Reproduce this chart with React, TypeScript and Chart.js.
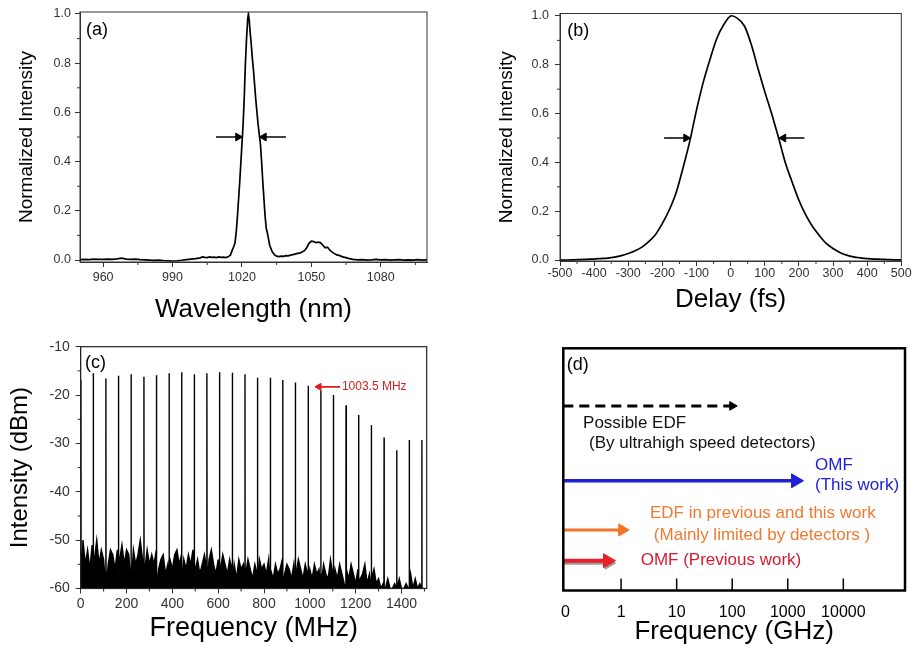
import React, { useEffect, useRef } from 'react';
import Chart from 'chart.js/auto';

const FONT = "'Liberation Sans', Arial, Helvetica, sans-serif";

// ---------------- (a) optical spectrum ----------------
const specWavelength = [
  950, 952, 954, 956, 958, 960, 962, 964, 966, 968, 970, 972, 974, 976, 978, 980, 982, 984, 986, 988,
  990, 992, 994, 996, 998, 1000, 1002, 1003, 1004, 1005, 1006, 1007, 1008, 1009, 1010, 1011, 1012, 1013, 1014,
  1015, 1015.5, 1016, 1016.5, 1017, 1017.5, 1018, 1018.5, 1019, 1019.5, 1020, 1020.5, 1021, 1021.5, 1022, 1022.5,
  1022.8, 1023.2, 1023.5, 1024, 1024.5, 1025, 1025.5, 1026, 1026.5, 1027, 1027.5, 1028, 1028.5, 1029, 1029.5,
  1030, 1030.5, 1031, 1031.5, 1032, 1033, 1034, 1035, 1036, 1037, 1038, 1039, 1040, 1041, 1042, 1043, 1044,
  1045, 1046, 1047, 1048, 1049, 1050, 1051, 1052, 1053, 1054, 1055, 1056, 1057, 1058, 1059, 1060, 1061, 1062,
  1063, 1064, 1065, 1066, 1067, 1068, 1070, 1072, 1074, 1076, 1078, 1080, 1082, 1084, 1086, 1088, 1090, 1092,
  1094, 1096, 1098, 1100,
];
const specIntensity = [
  0.002, 0.003, 0.002, 0.004, 0.003, 0.003, 0.004, 0.003, 0.005, 0.008, 0.004, 0.003, 0.004, 0.002, 0.001, 0.0, -0.001, 0.0, -0.002, -0.003,
  -0.004, -0.003, -0.001, 0.002, 0.004, 0.006, 0.009, 0.013, 0.011, 0.01, 0.013, 0.011, 0.012, 0.01, 0.013, 0.011, 0.012, 0.01, 0.013,
  0.02, 0.032, 0.045, 0.055, 0.07, 0.11, 0.17, 0.24, 0.31, 0.39, 0.47, 0.55, 0.66, 0.8, 0.9, 0.98,
  1.0, 0.97, 0.93, 0.88, 0.82, 0.77, 0.71, 0.65, 0.6, 0.55, 0.51, 0.47, 0.4, 0.32, 0.25,
  0.18, 0.13, 0.11, 0.085, 0.06, 0.035, 0.022, 0.016, 0.014, 0.016, 0.015, 0.018, 0.017, 0.02, 0.022, 0.024, 0.027,
  0.028, 0.033, 0.038, 0.05, 0.068, 0.077, 0.075, 0.071, 0.073, 0.07, 0.06, 0.05, 0.052, 0.04, 0.032, 0.026, 0.021, 0.019,
  0.015, 0.012, 0.01, 0.007, 0.005, 0.003, 0.001, 0.002, 0.0, 0.001, 0.003, 0.001, 0.002, 0.0, 0.001, 0.002, 0.0, 0.001,
  0.0, 0.002, 0.0, 0.001,
];
const aArrowFrom = [1008.8, 1039.0];
const aArrowHead = [1018.3, 1029.5];
const halfMaxLevel = 0.5;
const aXTicks = [960, 990, 1020, 1050, 1080];
const aXMinor = [975, 1005, 1035, 1065, 1095];
const normTicks = [0, 0.2, 0.4, 0.6, 0.8, 1.0];
const normTickLabels = ['0.0', '0.2', '0.4', '0.6', '0.8', '1.0'];
const normMinor = [0.1, 0.3, 0.5, 0.7, 0.9];

// ---------------- (b) autocorrelation ----------------
const delayFs = [
  -500, -480, -460, -440, -420, -400, -380, -360, -340, -320, -300, -280, -260, -240, -220, -200, -180, -160, -140, -120,
  -100, -80, -60, -40, -20, 0, 20, 40, 60, 80, 100, 120, 140, 160, 180, 200, 220, 240, 260, 280,
  300, 320, 340, 360, 380, 400, 420, 440, 460, 480, 500,
];
const acIntensity = [
  0.0, 0.0, 0.001, 0.002, 0.003, 0.004, 0.006, 0.008, 0.012, 0.018, 0.027, 0.038, 0.053, 0.075, 0.105, 0.15, 0.205, 0.275, 0.375, 0.485,
  0.615, 0.73, 0.825, 0.91, 0.965, 1.0, 0.99, 0.96, 0.885, 0.785, 0.69, 0.6, 0.503, 0.4, 0.32, 0.245, 0.185, 0.137, 0.1, 0.068,
  0.047, 0.031, 0.02, 0.013, 0.009, 0.006, 0.004, 0.003, 0.002, 0.001, 0.001,
];
const bArrowFrom = [-195, 216];
const bArrowHead = [-130.7, 154.7];
const bXTicks = [-500, -400, -300, -200, -100, 0, 100, 200, 300, 400, 500];
const bXMinor = [-450, -350, -250, -150, -50, 50, 150, 250, 350, 450];

// ---------------- (c) RF spectrum ----------------
const combFreqMHz = [1, 55, 110, 165, 220, 276, 331, 386, 441, 496, 551, 606, 662, 717, 772, 827, 882, 937, 993, 1048, 1103, 1158, 1213, 1268, 1324, 1379, 1434, 1489];
const combLevelDbm = [-16.9, -15.5, -16.6, -16.0, -15.7, -16.2, -15.9, -15.5, -15.3, -15.7, -15.5, -15.3, -15.4, -15.7, -16.4, -16.4, -16.9, -17.4, -18.1, -19.0, -20.0, -22.1, -24.1, -26.2, -28.8, -31.4, -29.3, -29.3];
const noiseStartMHz = 0;
const noiseStepMHz = 10;
const noiseLevelDbm = [
  -53, -50, -55, -52, -56, -51, -54, -50, -55, -52, -54,
  -51, -55, -52, -53, -56, -52, -54, -51, -55, -52,
  -53, -56, -52, -55, -53, -50, -54, -56, -52, -55,
  -53, -55, -52, -56, -54, -53, -57, -55, -54, -56,
  -53, -52, -55, -53, -54, -56, -53, -55, -52, -56,
  -54, -57, -55, -53, -56, -54, -52, -55, -57, -54,
  -56, -53, -55, -57, -54, -56, -55, -58, -54, -56,
  -55, -57, -54, -56, -58, -55, -57, -54, -56, -55,
  -57, -54, -56, -58, -55, -57, -56, -54, -57, -55,
  -56, -58, -55, -57, -54, -56, -58, -55, -57, -56,
  -58, -55, -57, -56, -59, -55, -57, -58, -54, -57,
  -56, -58, -55, -57, -59, -56, -58, -55, -57, -59,
  -56, -58, -57, -55, -59, -57, -58, -56, -59, -58,
  -60, -59, -60, -58, -60, -60, -59, -60, -58, -60,
  -60, -59, -60, -57, -60, -58, -60, -59, -60, -60,
];
const cXTicks = [0, 200, 400, 600, 800, 1000, 1200, 1400];
const cXMinor = [100, 300, 500, 700, 900, 1100, 1300, 1500];
const cYTicks = [-60, -50, -40, -30, -20, -10];
const cYMinor = [-55, -45, -35, -25, -15];
const markFrom = 1132;
const markHead = 1040;
const markLevel = -18.3;
const markText = '1003.5 MHz';
const markTextX = 1140;

// ---------------- (d) bandwidth comparison ----------------
const dTickPos = [0, 1, 2, 3, 4, 5];
const dTickLabels = ['0', '1', '10', '100', '1000', '10000'];
const dInnerTicks = [1, 2, 3, 4, 5];
const dArrowStart = -0.04;
const dArrowEnd = [3.0, 4.14, 1.02, 0.755];
const dArrowLevel = [0.762, 0.453, 0.25, 0.123];
const dArrowColor = ['#000000', '#1e22d6', '#f07528', '#e8202a'];
const dArrowWidth = [3, 3.5, 3, 4];
const dArrowHeadSize = [5, 8, 7, 8];
const dNoteText = ['Possible EDF', '(By ultrahigh speed detectors)', 'OMF', '(This work)', 'EDF in previous and this work', '(Mainly limited by detectors )', 'OMF (Previous work)'];
const dNoteX = [0.316, 0.422, 4.49, 4.49, 1.519, 1.59, 1.353];
const dNoteY = [0.69, 0.608, 0.518, 0.436, 0.319, 0.229, 0.123];
const dNoteColor = ['#111111', '#111111', '#1e22d6', '#1e22d6', '#f07a30', '#f07a30', '#d81a30'];

// ---------------- helpers ----------------
function makeFrame(o: any) {
  return {
    id: 'frameTicks',
    afterDatasetsDraw(chart: any) {
      const { ctx, chartArea: ca, scales } = chart;
      ctx.save();
      ctx.strokeStyle = o.color;
      ctx.lineWidth = o.width;
      ctx.strokeRect(ca.left, ca.top, ca.right - ca.left, ca.bottom - ca.top);
      ctx.lineWidth = o.tickWidth || 1;
      ctx.beginPath();
      (o.minorX || []).forEach((v: number) => {
        const p = scales.x.getPixelForValue(v);
        ctx.moveTo(p, ca.bottom);
        ctx.lineTo(p, ca.bottom + o.minorLen);
      });
      (o.minorY || []).forEach((v: number) => {
        const p = scales.y.getPixelForValue(v);
        ctx.moveTo(ca.left, p);
        ctx.lineTo(ca.left - o.minorLen, p);
      });
      (o.innerX || []).forEach((v: number) => {
        const p = scales.x.getPixelForValue(v);
        ctx.moveTo(p, ca.bottom);
        ctx.lineTo(p, ca.bottom - o.innerLen);
      });
      ctx.stroke();
      ctx.restore();
    },
  };
}

function makeNotes(items: any[]) {
  return {
    id: 'notes',
    afterDatasetsDraw(chart: any) {
      const { ctx, chartArea: ca, scales } = chart;
      ctx.save();
      items.forEach((it) => {
        const x = it.rel ? ca.left + it.x : scales.x.getPixelForValue(it.x);
        const y = it.rel ? ca.top + it.y : scales.y.getPixelForValue(it.y);
        ctx.font = `${it.size}px ${FONT}`;
        ctx.fillStyle = it.color;
        ctx.textAlign = 'left';
        ctx.textBaseline = 'middle';
        ctx.fillText(it.text, x, y);
      });
      ctx.restore();
    },
  };
}

function arrowDataset(from: number, head: number, level: number, color: string, width: number, r: number, dash?: number[]) {
  return {
    data: [{ x: from, y: level }, { x: head, y: level }],
    borderColor: color,
    borderWidth: width,
    borderDash: dash || [],
    pointRadius: [0, r],
    pointStyle: 'triangle',
    pointRotation: head > from ? 90 : -90,
    pointBackgroundColor: color,
    pointBorderColor: color,
    pointBorderWidth: 1,
    fill: false,
    tension: 0,
  };
}

function xAxis(o: any) {
  return {
    type: 'linear',
    min: o.min,
    max: o.max,
    afterBuildTicks: (s: any) => {
      s.ticks = o.ticks.map((v: number) => ({ value: v }));
    },
    afterFit: (s: any) => {
      s.height = o.height;
    },
    ticks: {
      autoSkip: false,
      maxRotation: 0,
      minRotation: 0,
      color: o.tickColor || '#333',
      font: { family: FONT, size: o.tickSize },
      padding: o.tickPad,
      callback: (_v: any, i: number) => o.labels[i],
    },
    grid: o.noGrid
      ? { display: false, drawTicks: false }
      : { display: true, drawOnChartArea: false, drawTicks: true, tickLength: 5, color: '#333', tickColor: '#333', lineWidth: 1 },
    border: { display: !o.noGrid, color: '#333', width: 1 },
    title: {
      display: true,
      text: o.title,
      color: '#000',
      font: { family: FONT, size: o.titleSize },
      padding: { top: 0, bottom: o.titlePad },
    },
  };
}

function yAxis(o: any) {
  return {
    type: 'linear',
    min: o.min,
    max: o.max,
    afterBuildTicks: (s: any) => {
      s.ticks = o.ticks.map((v: number) => ({ value: v }));
    },
    afterFit: (s: any) => {
      s.width = o.width;
    },
    ticks: {
      autoSkip: false,
      color: '#333',
      font: { family: FONT, size: o.tickSize },
      padding: o.tickPad,
      callback: (_v: any, i: number) => o.labels[i],
    },
    grid: { display: true, drawOnChartArea: false, drawTicks: true, tickLength: 5, color: '#333', tickColor: '#333', lineWidth: 1 },
    border: { display: true, color: '#333', width: 1 },
    title: {
      display: true,
      text: o.title,
      color: '#000',
      font: { family: FONT, size: o.titleSize },
      padding: { top: o.titlePad, bottom: 0 },
    },
  };
}

const baseOptions = {
  animation: false,
  responsive: false,
  events: [],
  plugins: { legend: { display: false }, tooltip: { enabled: false } },
};

function makeA() {
  const curve = specWavelength.map((x, i) => ({ x, y: specIntensity[i] }));
  return {
    type: 'line',
    data: {
      datasets: [
        { data: curve, borderColor: '#000', borderWidth: 1.7, pointRadius: 0, fill: false, tension: 0 },
        ...aArrowFrom.map((f, i) => arrowDataset(f, aArrowHead[i], halfMaxLevel, '#000', 1.5, 4.5)),
      ],
    },
    options: {
      ...baseOptions,
      layout: { padding: { top: 12, right: 33, left: 0, bottom: 0 } },
      scales: {
        x: xAxis({ min: 950, max: 1100, ticks: aXTicks, labels: aXTicks.map(String), height: 64, tickSize: 12.5, tickPad: 3, title: 'Wavelength (nm)', titleSize: 26, titlePad: 1 }),
        y: yAxis({ min: -0.008, max: 1.008, ticks: normTicks, labels: normTickLabels, width: 80, tickSize: 12.5, tickPad: 4, title: 'Normalized Intensity', titleSize: 19, titlePad: 15.6 }),
      },
    },
    plugins: [
      makeFrame({ color: '#333', width: 1, minorX: aXMinor, minorY: normMinor, minorLen: 3 }),
      makeNotes([{ text: '(a)', x: 6, y: 18, rel: true, size: 18, color: '#000' }]),
    ],
  };
}

function makeB() {
  const curve = delayFs.map((x, i) => ({ x, y: acIntensity[i] }));
  return {
    type: 'line',
    data: {
      datasets: [
        { data: curve, borderColor: '#000', borderWidth: 1.7, pointRadius: 0, fill: false, tension: 0.3 },
        ...bArrowFrom.map((f, i) => arrowDataset(f, bArrowHead[i], halfMaxLevel, '#000', 1.5, 4.5)),
      ],
    },
    options: {
      ...baseOptions,
      layout: { padding: { top: 12.5, right: 12.7, left: 0, bottom: 0 } },
      scales: {
        x: xAxis({ min: -500, max: 500, ticks: bXTicks, labels: bXTicks.map(String), height: 65, tickSize: 12.5, tickPad: 0, title: 'Delay (fs)', titleSize: 26, titlePad: 10.4 }),
        y: yAxis({ min: -0.004, max: 1.0102, ticks: normTicks, labels: normTickLabels, width: 100, tickSize: 12.5, tickPad: 6, title: 'Normalized Intensity', titleSize: 19, titlePad: 34.9 }),
      },
    },
    plugins: [
      makeFrame({ color: '#333', width: 1, minorX: bXMinor, minorY: normMinor, minorLen: 3 }),
      makeNotes([{ text: '(b)', x: 7.3, y: 17.5, rel: true, size: 18, color: '#000' }]),
    ],
  };
}

function makeC() {
  const pts: { x: number; y: number }[] = [];
  noiseLevelDbm.forEach((v, i) => pts.push({ x: noiseStartMHz + i * noiseStepMHz, y: v }));
  combFreqMHz.forEach((f, i) => {
    pts.push({ x: f - 0.6, y: -60 }, { x: f, y: combLevelDbm[i] }, { x: f + 0.6, y: -60 });
  });
  pts.sort((a, b) => a.x - b.x);
  return {
    type: 'line',
    data: {
      datasets: [
        arrowDataset(markFrom, markHead, markLevel, '#e01818', 1.8, 4),
        { data: pts, borderColor: '#000', borderWidth: 1.4, pointRadius: 0, fill: 'start', backgroundColor: '#000', tension: 0 },
      ],
    },
    options: {
      ...baseOptions,
      layout: { padding: { top: 20.7, right: 33.3, left: 0, bottom: 0 } },
      scales: {
        x: xAxis({ min: 0, max: 1510, ticks: cXTicks, labels: cXTicks.map(String), height: 63.5, tickSize: 14, tickPad: 2.4, title: 'Frequency (MHz)', titleSize: 27, titlePad: 7.5 }),
        y: yAxis({ min: -60, max: -10, ticks: cYTicks, labels: cYTicks.map(String), width: 80.7, tickSize: 14, tickPad: 6, title: 'Intensity (dBm)', titleSize: 24, titlePad: 6.3 }),
      },
    },
    plugins: [
      makeFrame({ color: '#222', width: 1.2, minorX: cXMinor, minorY: cYMinor, minorLen: 3 }),
      makeNotes([
        { text: '(c)', x: 4.3, y: 16.6, rel: true, size: 18, color: '#000' },
        { text: markText, x: markTextX, y: markLevel, size: 12, color: '#d42020' },
      ]),
    ],
  };
}

function makeD() {
  const arrows = dArrowEnd.map((end, i) =>
    arrowDataset(dArrowStart, end, dArrowLevel[i], dArrowColor[i], dArrowWidth[i], dArrowHeadSize[i], i === 0 ? [10, 6] : undefined)
  );
  const shadow = arrowDataset(dArrowStart, dArrowEnd[3] + 0.02, dArrowLevel[3] - 0.01, '#9a9a9a', 3, 7);
  return {
    type: 'line',
    data: { datasets: [...arrows, shadow] },
    options: {
      ...baseOptions,
      layout: { padding: { top: 22.3, right: 4.7, left: 103.3, bottom: 0 } },
      scales: {
        x: xAxis({ min: -0.04, max: 6.11, ticks: dTickPos, labels: dTickLabels, height: 61.5, tickSize: 16, tickPad: 12.9, tickColor: '#000', noGrid: true, title: 'Frequency (GHz)', titleSize: 26, titlePad: 4.4 }),
        y: { type: 'linear', min: 0, max: 1, display: false },
      },
    },
    plugins: [
      makeFrame({ color: '#000', width: 2.5, innerX: dInnerTicks, innerLen: 12, tickWidth: 1.5 }),
      makeNotes([
        { text: '(d)', x: 3.4, y: 16.7, rel: true, size: 18, color: '#000' },
        ...dNoteText.map((t, i) => ({ text: t, x: dNoteX[i], y: dNoteY[i], size: 17, color: dNoteColor[i] })),
      ]),
    ],
  };
}

function Panel({ left, top, width, height, make }: { left: number; top: number; width: number; height: number; make: () => any }) {
  const ref = useRef<HTMLCanvasElement>(null);
  useEffect(() => {
    const chart = new Chart(ref.current as HTMLCanvasElement, make());
    return () => chart.destroy();
  }, []);
  return <canvas ref={ref} width={width} height={height} style={{ position: 'absolute', left, top, width, height }} />;
}

export default function App() {
  return (
    <div style={{ position: 'absolute', left: 0, top: 0, width: 914, height: 652, background: '#fff', overflow: 'hidden' }}>
      <Panel left={0} top={0} width={460} height={326} make={makeA} />
      <Panel left={460} top={0} width={454} height={326} make={makeB} />
      <Panel left={0} top={326} width={460} height={326} make={makeC} />
      <Panel left={460} top={326} width={454} height={326} make={makeD} />
    </div>
  );
}
